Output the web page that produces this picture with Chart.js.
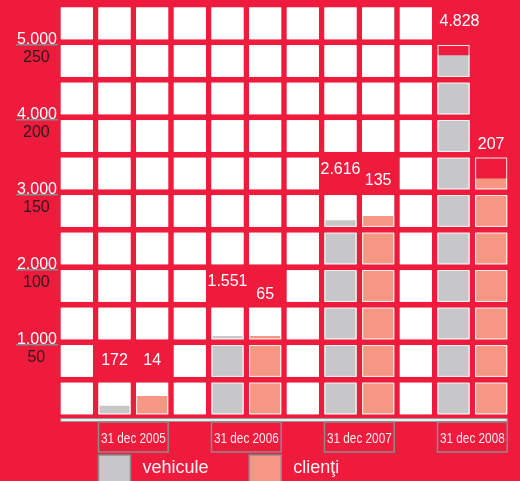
<!DOCTYPE html>
<html>
<head>
<meta charset="utf-8">
<script src="https://cdn.jsdelivr.net/npm/chart.js@4.4.1/dist/chart.umd.min.js"></script>
<style>
  html, body { margin: 0; padding: 0; background: #ee1b3d; }
  canvas { display: block; }
</style>
</head>
<body>
<canvas id="chart" width="520" height="481"></canvas>
<script>
const years = ['31 dec 2005', '31 dec 2006', '31 dec 2007', '31 dec 2008'];
// figures printed above the bars
const vehicleLabels = ['172', '1.551', '2.616', '4.828'];
const clientLabels = ['14', '65', '135', '207'];
// bar heights as they are drawn in the picture
const vehicleBars = [190, 1120, 2665, 4865];
const clientBars = [16, 56, 136, 161];
const vehicleTicks = [1000, 2000, 3000, 4000, 5000];
const vehicleTickLabels = ['1.000', '2.000', '3.000', '4.000', '5.000'];
const clientTicks = [50, 100, 150, 200, 250];
const clientTickLabels = ['50', '100', '150', '200', '250'];

const RED = '#ee1b3d';
const GREY = '#c7c7c9';
const SALMON = '#f69784';
const STEP = 500;   // vehicles per row of squares
const GAP = 75;     // red gap between rows, in vehicles
const ROWS = 11;
const RATIO = 20;   // vehicles per client on the shared height
const BAR_PCT = 0.85;
const FONT = "'Liberation Sans', Arial, sans-serif";

// small nudges of the printed figures inside their cell
const vehicleLabelDy = [0, -4, -4, -2];
const clientLabelDy = [0, 9, 7, 9];

function colBox(chart, col) {
    const x = chart.scales.x;
    const slot = (x.right - x.left) / (years.length * 3);
    const w = slot * BAR_PCT;
    const cx = x.left + (col + 0.5) * slot;
    return { left: cx - w / 2, right: cx + w / 2, cx: cx };
}

function rowBox(chart, k) {
    const y = chart.scales.y;
    const top = y.getPixelForValue((k + 1) * STEP);
    const bottom = y.getPixelForValue(k * STEP + GAP);
    return { top: top, bottom: bottom, cy: (top + bottom) / 2 };
}

function columnInfo(col) {
    const year = Math.floor(col / 3);
    const s = col % 3;
    if (s === 0) return null;
    const v = s === 1 ? vehicleBars[year] : clientBars[year] * RATIO;
    const partial = Math.floor(v / STEP);
    return { year: year, partial: partial, labelRow: partial + 1, latest: year === years.length - 1 };
}

function cellState(col, k) {
    const info = columnInfo(col);
    if (!info) return 'tile';
    if (k === info.labelRow) return 'gone';
    if (info.latest && k > info.partial) return 'gone';
    if (info.latest && k === info.partial) return 'open';
    return 'tile';
}

function eachCell(chart, fn) {
    for (let col = 0; col < years.length * 3; col++) {
        const c = colBox(chart, col);
        for (let k = 0; k < ROWS; k++) {
            fn(c, rowBox(chart, k), cellState(col, k));
        }
    }
}

const tilePlugin = {
    id: 'tiles',
    beforeDatasetsDraw(chart) {
        const ctx = chart.ctx;
        ctx.save();
        ctx.fillStyle = '#ffffff';
        eachCell(chart, (c, r, state) => {
            if (state === 'tile') ctx.fillRect(c.left, r.top, c.right - c.left, r.bottom - r.top);
        });
        ctx.restore();
    },
    afterDatasetsDraw(chart) {
        const ctx = chart.ctx;
        const area = chart.chartArea;
        const y = chart.scales.y;
        ctx.save();
        ctx.fillStyle = RED;
        for (let k = 0; k < ROWS; k++) {
            const top = y.getPixelForValue(k * STEP + GAP);
            const bottom = y.getPixelForValue(k * STEP);
            ctx.fillRect(area.left, top, area.right - area.left, bottom - top + 0.5);
        }
        ctx.strokeStyle = 'rgba(255,255,255,0.9)';
        ctx.lineWidth = 1;
        eachCell(chart, (c, r, state) => {
            if (state !== 'gone') ctx.strokeRect(c.left + 0.5, r.top + 0.5, c.right - c.left - 1, r.bottom - r.top - 1);
        });

        ctx.fillStyle = '#ffffff';
        ctx.font = '16px ' + FONT;
        ctx.textAlign = 'center';
        ctx.textBaseline = 'middle';
        years.forEach((yr, i) => {
            const vi = columnInfo(i * 3 + 1);
            const ci = columnInfo(i * 3 + 2);
            const vc = colBox(chart, i * 3 + 1);
            const cc = colBox(chart, i * 3 + 2);
            const vDx = vi.latest ? 6 : 0;
            ctx.fillText(vehicleLabels[i], vc.cx + vDx, rowBox(chart, vi.labelRow).cy + vehicleLabelDy[i]);
            ctx.fillText(clientLabels[i], cc.cx, rowBox(chart, ci.labelRow).cy + clientLabelDy[i]);
        });
        ctx.restore();
    },
    afterDraw(chart) {
        const ctx = chart.ctx;
        const y0 = chart.scales.y.getPixelForValue(0);
        const first = colBox(chart, 0);
        const last = colBox(chart, years.length * 3 - 1);
        ctx.save();
        // base line
        ctx.fillStyle = '#ececec';
        ctx.fillRect(first.left, y0 - 1.5, last.right - first.left, 3);
        ctx.strokeStyle = '#9a9a9a';
        ctx.lineWidth = 1;
        ctx.strokeRect(first.left, y0 - 1.5, last.right - first.left, 3);
        // dates in their boxes, narrow type
        ctx.strokeStyle = '#8c8c8c';
        ctx.lineWidth = 1.5;
        ctx.fillStyle = '#ffe9ec';
        ctx.font = '15.5px ' + FONT;
        ctx.textAlign = 'center';
        ctx.textBaseline = 'middle';
        chart.data.labels.forEach((label, i) => {
            const a = colBox(chart, i * 3 + 1);
            const b = colBox(chart, i * 3 + 2);
            ctx.strokeRect(a.left, y0 + 2, b.right - a.left, 30);
            ctx.save();
            ctx.translate((a.left + b.right) / 2, y0 + 18.5);
            ctx.scale(0.76, 1);
            ctx.fillText(label, 0, 0);
            ctx.restore();
        });
        // legend
        const items = [
            { ds: chart.data.datasets[1], col: 1 },
            { ds: chart.data.datasets[2], col: 5 }
        ];
        ctx.font = '18px ' + FONT;
        ctx.textAlign = 'left';
        ctx.textBaseline = 'middle';
        ctx.lineWidth = 1.5;
        items.forEach(it => {
            const c = colBox(chart, it.col);
            ctx.fillStyle = it.ds.backgroundColor;
            ctx.fillRect(c.left, y0 + 35, c.right - c.left, 32);
            ctx.strokeStyle = '#8c8c8c';
            ctx.strokeRect(c.left, y0 + 35, c.right - c.left, 32);
            ctx.fillStyle = '#fff0f2';
            ctx.fillText(it.ds.label, c.right + 12, y0 + 48);
        });
        ctx.restore();
    }
};

const ctx = document.getElementById('chart').getContext('2d');
new Chart(ctx, {
    type: 'bar',
    data: {
        labels: years,
        datasets: [
            { label: '', data: years.map(() => null), backgroundColor: 'transparent' },
            { label: 'vehicule', data: vehicleBars, yAxisID: 'y', backgroundColor: GREY },
            { label: 'clienţi', data: clientBars, yAxisID: 'y2', backgroundColor: SALMON }
        ]
    },
    options: {
        responsive: false,
        animation: false,
        datasets: { bar: { categoryPercentage: 1, barPercentage: BAR_PCT, borderWidth: 0 } },
        layout: { padding: { left: 16, right: 10, top: 7.5, bottom: 0 } },
        plugins: { legend: { display: false }, tooltip: { enabled: false } },
        scales: {
            x: {
                grid: { display: false },
                border: { display: false },
                ticks: { display: false },
                afterFit(s) { s.height = 61; s.paddingLeft = 0; s.paddingRight = 0; }
            },
            y: {
                position: 'left',
                weight: 1,
                min: 0,
                max: ROWS * STEP,
                afterBuildTicks(s) { s.ticks = vehicleTicks.map(v => ({ value: v })); },
                ticks: {
                    callback: (v, i) => vehicleTickLabels[i],
                    color: '#ffffff',
                    font: { family: FONT, size: 16 },
                    crossAlign: 'center',
                    padding: -41,
                    labelOffset: -5
                },
                grid: { drawOnChartArea: false, drawTicks: true, tickLength: 42, color: '#8a8a8a', lineWidth: 1.5 },
                border: { display: false },
                afterFit(s) { s.width = 42; s.paddingTop = 0; s.paddingBottom = 0; }
            },
            y2: {
                position: 'left',
                weight: 2,
                min: 0,
                max: ROWS * STEP / RATIO,
                afterBuildTicks(s) { s.ticks = clientTicks.map(v => ({ value: v })); },
                ticks: {
                    callback: (v, i) => clientTickLabels[i],
                    color: '#2a1a1e',
                    font: { family: FONT, size: 16 },
                    crossAlign: 'center',
                    mirror: true,
                    padding: 7,
                    labelOffset: 13
                },
                grid: { display: false, drawTicks: false },
                border: { display: false },
                afterFit(s) { s.width = 0; s.paddingTop = 0; s.paddingBottom = 0; }
            }
        }
    },
    plugins: [tilePlugin]
});
</script>
</body>
</html>
